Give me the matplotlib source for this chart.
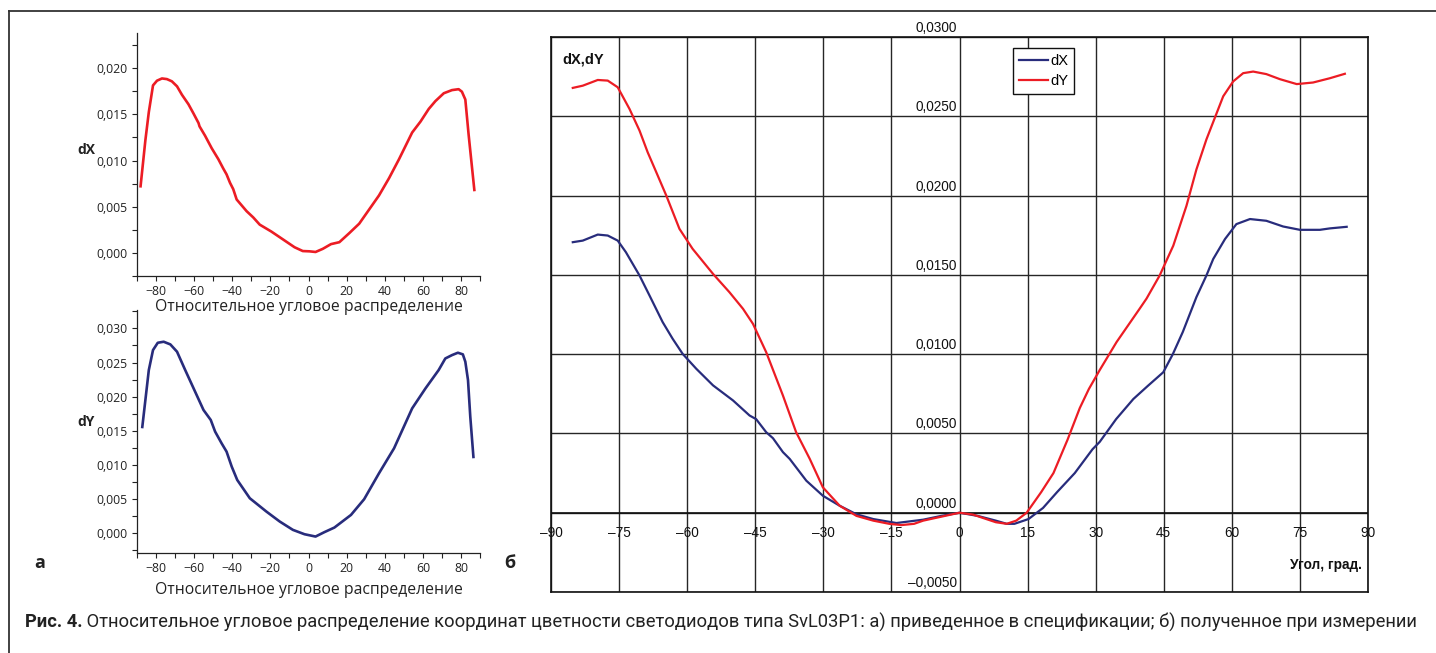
import matplotlib
matplotlib.use("Agg")
import matplotlib.pyplot as plt
from matplotlib.lines import Line2D
import matplotlib.transforms as mtransforms

# ---------------- data ----------------
# Panel a, top: dX (specification)
a_dx_angle = [-88.2, -85.6, -83.8, -81.6, -79.5, -76.9, -74.3, -71.7, -69.0, -66.4, -63.0, -60.3,
              -57.7, -57.2, -54.3, -50.8, -47.3, -44.7, -43.0, -41.2, -39.5, -37.7, -32.5, -29.0,
              -25.6, -19.5, -13.4, -7.3, -3.0, 0.5, 3.7, 7.5, 11.8, 16.2, 21.4, 26.6, 31.8, 37.0,
              42.3, 47.5, 54.4, 58.8, 63.1, 66.6, 71.0, 75.3, 78.8, 80.5, 82.3, 84.0, 85.7, 87.1]
a_dx_value = [0.00707, 0.0122, 0.01524, 0.01813, 0.01864, 0.01888, 0.01881, 0.01857, 0.01803,
              0.01711, 0.01609, 0.01507, 0.01405, 0.0137, 0.01269, 0.01133, 0.01014, 0.00912,
              0.0085, 0.00759, 0.0069, 0.00578, 0.00452, 0.00384, 0.00306, 0.00231, 0.00146,
              0.00061, 0.0002, 0.00017, 0.0001, 0.00044, 0.00095, 0.00116, 0.00214, 0.00316,
              0.00469, 0.00622, 0.0081, 0.01014, 0.01303, 0.01422, 0.01558, 0.01643, 0.01728,
              0.01762, 0.01772, 0.01745, 0.0166, 0.01286, 0.00946, 0.00667]

# Panel a, bottom: dY (specification)
a_dy_angle = [-87.3, -85.6, -83.8, -81.6, -79.1, -76.0, -72.5, -69.0, -64.7, -60.3, -55.1, -51.3,
              -49.0, -45.6, -43.0, -40.3, -37.4, -30.8, -22.1, -15.1, -8.2, -2.1, 3.7, 8.3, 13.6,
              22.3, 29.2, 37.0, 44.9, 54.4, 61.4, 68.3, 71.8, 75.3, 78.4, 81.0, 82.3, 83.7, 84.9, 86.6]
a_dy_value = [0.01537, 0.01951, 0.0239, 0.02683, 0.0279, 0.02805, 0.02766, 0.02659, 0.0239, 0.02122,
              0.01805, 0.01659, 0.01488, 0.01317, 0.01195, 0.00976, 0.0078, 0.00512, 0.00317,
              0.00171, 0.00049, -0.00015, -0.00049, 0.00015, 0.00083, 0.00268, 0.00498, 0.00878,
              0.01244, 0.01829, 0.02122, 0.0239, 0.0256, 0.02609, 0.02644, 0.0262, 0.02512,
              0.02244, 0.01707, 0.01098]

# Panel b: measured dX and dY
b_dx_angle = [-85.2, -83.0, -79.7, -77.5, -75.3, -73.5, -70.5, -68.3, -65.4, -63.2, -61.0, -58.0,
              -54.3, -49.9, -46.25, -44.8, -42.6, -41.1, -38.9, -37.4, -33.75, -30.1, -26.4, -22.7,
              -19.0, -13.9, -8.0, -4.0, 0.0, 4.0, 8.0, 10.4, 12.1, 15.2, 18.4, 21.5, 25.4, 29.3,
              30.9, 34.5, 38.3, 41.5, 44.9, 47.0, 49.2, 52.2, 54.4, 55.9, 58.5, 61.0, 64.0, 67.6,
              71.3, 75.0, 79.4, 81.6, 85.3]
b_dx_value = [0.01706, 0.01716, 0.01754, 0.01748, 0.01716, 0.01643, 0.01496, 0.0137, 0.01202,
              0.01097, 0.01002, 0.00908, 0.00803, 0.00708, 0.00613, 0.0059, 0.00508, 0.0047,
              0.00382, 0.00339, 0.00202, 0.00107, 0.00044, -0.0001, -0.0004, -0.00065, -0.00044,
              -0.0002, 0.0, -0.0002, -0.0005, -0.0007, -0.0007, -0.0004, 0.0003, 0.0013, 0.0025,
              0.0040, 0.00447, 0.0059, 0.00717, 0.0080, 0.00886, 0.0100, 0.0114, 0.0136, 0.01496,
              0.0160, 0.01726, 0.0182, 0.01852, 0.01841, 0.01805, 0.01784, 0.01784, 0.01793, 0.01803]

b_dy_angle = [-85.2, -83.0, -79.7, -77.5, -75.3, -72.7, -70.5, -68.7, -66.8, -64.6, -61.7, -58.8,
              -54.3, -50.7, -47.7, -45.5, -42.6, -38.9, -36.0, -33.0, -30.1, -26.4, -22.7, -19.0,
              -15.5, -12.8, -10.0, -8.0, -4.0, 0.0, 3.0, 5.9, 8.0, 10.4, 12.5, 14.8, 18.0, 20.7,
              23.8, 26.5, 28.5, 30.9, 34.6, 39.7, 41.2, 44.1, 47.1, 50.0, 52.2, 54.4, 56.25, 58.1,
              60.3, 62.5, 64.7, 67.6, 70.6, 74.3, 77.9, 81.6, 84.9]
b_dy_value = [0.02679, 0.02693, 0.02729, 0.02725, 0.02683, 0.02546, 0.0241, 0.02273, 0.02147,
              0.0200, 0.0179, 0.01664, 0.01506, 0.01391, 0.01286, 0.01191, 0.01013, 0.00739,
              0.00508, 0.0034, 0.0016, 0.00044, -0.0002, -0.0005, -0.0007, -0.00078, -0.0007,
              -0.0005, -0.00025, 0.0, -0.00012, -0.0004, -0.0006, -0.0007, -0.0005, 0.0, 0.0013,
              0.0025, 0.0046, 0.0066, 0.0078, 0.0090, 0.01076, 0.01287, 0.0135, 0.01496, 0.01684,
              0.01935, 0.02165, 0.02354, 0.0249, 0.02626, 0.0272, 0.02772, 0.02782, 0.02766,
              0.02734, 0.02703, 0.02713, 0.0274, 0.02768]

# ticks / labels
a_xticks = [-80, -60, -40, -20, 0, 20, 40, 60, 80]
a_xticklabels = ["−80", "−60", "−40", "−20", "0", "20", "40", "60", "80"]
a_top_yticks = [0.0, 0.005, 0.010, 0.015, 0.020]
a_top_yticklabels = ["0,000", "0,005", "0,010", "0,015", "0,020"]
a_bot_yticks = [0.0, 0.005, 0.010, 0.015, 0.020, 0.025, 0.030]
a_bot_yticklabels = ["0,000", "0,005", "0,010", "0,015", "0,020", "0,025", "0,030"]
b_xticks = [-90, -75, -60, -45, -30, -15, 0, 15, 30, 45, 60, 75, 90]
b_xticklabels = ["–90", "–75", "–60", "–45", "–30", "–15", "0", "15", "30", "45", "60", "75", "90"]
b_yticks = [-0.005, 0.0, 0.005, 0.010, 0.015, 0.020, 0.025, 0.030]
b_yticklabels = ["–0,0050", "0,0000", "0,0050", "0,0100", "0,0150", "0,0200", "0,0250", "0,0300"]

RED = "#EC1C24"
NAVY = "#282C7C"
SMALL_FONT = "Open Sans"
CHART_FONT = "Liberation Sans"

W, H = 1436, 653
fig = plt.figure(figsize=(W / 100, H / 100), dpi=100)


def fx(px):
    return px / W


def fy(py):
    return 1 - py / H


# outer frame (left & top lines)
fig.add_artist(Line2D([fx(9), fx(9)], [fy(11), 0], color="#333333", lw=1.3, transform=fig.transFigure))
fig.add_artist(Line2D([fx(9), 1], [fy(11), fy(11)], color="#333333", lw=1.3, transform=fig.transFigure))


def small_panel(rect, xs, ys, color, yticks, yticklabels, ylim, ylabel, label_y, labelpad):
    ax = fig.add_axes(rect)
    ax.patch.set_visible(False)
    ax.plot(xs, ys, color=color, lw=1.9, solid_capstyle="butt", solid_joinstyle="round")
    ax.set_xlim(-90, 90)
    ax.set_ylim(*ylim)
    for s in ("top", "right"):
        ax.spines[s].set_visible(False)
    for s in ("left", "bottom"):
        ax.spines[s].set_color("#222222")
        ax.spines[s].set_linewidth(0.9)
    ax.set_xticks(a_xticks)
    ax.set_xticklabels(a_xticklabels, fontfamily=SMALL_FONT, fontsize=8.8, color="#222222")
    ax.set_xticks([-90, -70, -50, -30, -10, 10, 30, 50, 70, 90], minor=True)
    ax.set_yticks(yticks)
    ax.set_yticklabels(yticklabels, fontfamily=SMALL_FONT, fontsize=8.8, color="#222222")
    minor_y = [v + 0.0025 for v in yticks] + [yticks[0] - 0.0025]
    ax.set_yticks(minor_y, minor=True)
    ax.tick_params(which="both", direction="out", color="#222222", width=0.8)
    ax.tick_params(which="major", length=3.5, pad=3)
    ax.tick_params(which="minor", length=3.5)
    ax.set_xlabel("Относительное угловое распределение", fontfamily=SMALL_FONT,
                  fontsize=11.3, color="#222222", labelpad=labelpad)
    fig.text(fx(86), fy(label_y), ylabel, fontfamily=SMALL_FONT, fontweight="bold",
             fontsize=10, ha="center", va="center", color="#222222")
    return ax


small_panel([fx(137), fy(276), fx(480) - fx(137), fy(33) - fy(276)],
            a_dx_angle, a_dx_value, RED, a_top_yticks, a_top_yticklabels,
            (-0.0024, 0.0238), "dX", 150, 1)
small_panel([fx(137), fy(553), fx(480) - fx(137), fy(310) - fy(553)],
            a_dy_angle, a_dy_value, NAVY, a_bot_yticks, a_bot_yticklabels,
            (-0.0029, 0.0327), "dY", 422, 5)

fig.text(fx(40), fy(563), "а", fontfamily=SMALL_FONT, fontweight="bold", fontsize=13,
         ha="center", va="center", color="#222222")
fig.text(fx(510), fy(563), "б", fontfamily=SMALL_FONT, fontweight="bold", fontsize=13,
         ha="center", va="center", color="#222222")

# ---------------- panel b ----------------
axb = fig.add_axes([fx(551), fy(592), fx(1368) - fx(551), fy(37) - fy(592)])
axb.set_xlim(-90, 90)
axb.set_ylim(-0.005, 0.030)
for v in b_xticks:
    axb.axvline(v, color="#262626", lw=1.0, zorder=1)
for v in b_yticks:
    axb.axhline(v, color="#262626", lw=1.0, zorder=1)
axb.axhline(0, color="#111111", lw=1.2, zorder=1)
for s in axb.spines.values():
    s.set_color("#111111")
    s.set_linewidth(1.2)
axb.set_xticks([])
axb.set_yticks([])

lx, = axb.plot(b_dx_angle, b_dx_value, color=NAVY, lw=1.6, zorder=3, label="dX",
               solid_joinstyle="round")
ly, = axb.plot(b_dy_angle, b_dy_value, color=RED, lw=1.6, zorder=4, label="dY",
               solid_joinstyle="round")

off_x = mtransforms.offset_copy(axb.transData, fig=fig, x=0, y=-20, units="dots")
for v, lab in zip(b_xticks, b_xticklabels):
    axb.text(v, 0, lab, transform=off_x, ha="center", va="center", fontfamily=CHART_FONT,
             fontsize=9.8, color="#111111", zorder=5)
off_y = mtransforms.offset_copy(axb.transData, fig=fig, x=-3, y=2, units="dots")
for v, lab in zip(b_yticks, b_yticklabels):
    axb.text(0, v, lab, transform=off_y, ha="right", va="bottom", fontfamily=CHART_FONT,
             fontsize=9.8, color="#111111", zorder=5, clip_on=False)

fig.text(fx(562), fy(60), "dX,dY", fontfamily=CHART_FONT, fontweight="bold", fontsize=10.5,
         ha="left", va="center", color="#111111")
fig.text(fx(1362), fy(565), "Угол, град.", fontfamily=CHART_FONT, fontweight="bold", fontsize=9.8,
         ha="right", va="center", color="#111111")

leg = axb.legend(handles=[lx, ly], loc="upper left", bbox_to_anchor=(fx(1013), fy(48)),
                 bbox_transform=fig.transFigure, borderaxespad=0, fancybox=False,
                 framealpha=1, edgecolor="#111111", handlelength=2.0, handletextpad=0.15,
                 borderpad=0.4, labelspacing=0.45, prop={"family": CHART_FONT, "size": 10.5})
leg.get_frame().set_linewidth(1.0)
leg.set_zorder(10)

# ---------------- caption ----------------
t1 = fig.text(fx(25), fy(622), "Рис. 4.", fontfamily="Roboto", fontweight="bold", fontsize=13.2,
              ha="left", va="center", color="#222222")
fig.add_artist(plt.Annotation(
    " Относительное угловое распределение координат цветности светодиодов типа SvL03P1: "
    "а) приведенное в спецификации; б) полученное при измерении",
    xy=(1, 0.5), xycoords=t1, va="center", ha="left", fontfamily="Roboto",
    fontsize=13.2, color="#222222", annotation_clip=False))

fig.savefig("out.png", dpi=100)
